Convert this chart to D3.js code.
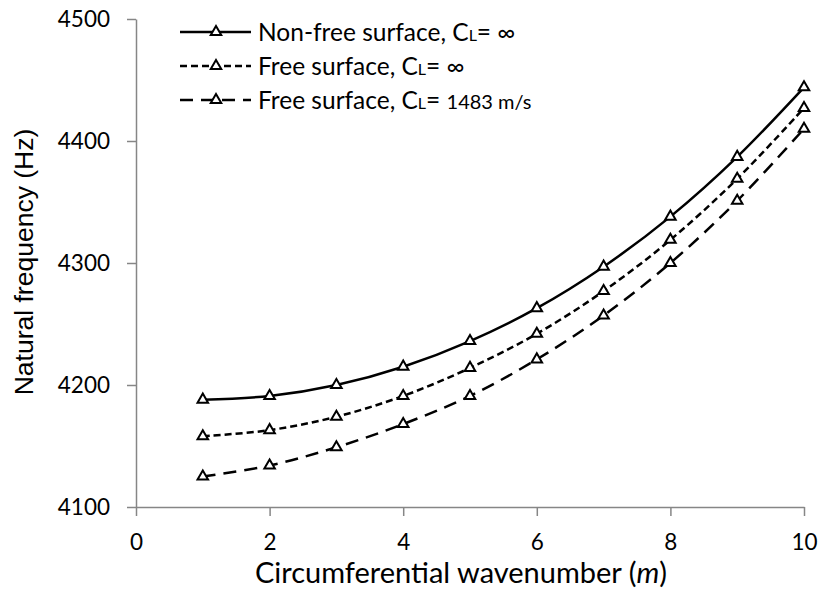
<!DOCTYPE html>
<html>
<head>
  <script src="https://d3js.org/d3.v7.min.js"></script>
  <style>
    body { margin: 0; background: #fff; font-family: Lato, "Open Sans", sans-serif; }
    .axis path, .axis line { stroke: #868686; stroke-width: 1.5; }
    .axis text { font-size: 22.5px; fill: #000; font-family: Lato, sans-serif; }
    .xtitle { font-size: 29px; fill: #000; font-family: Lato, sans-serif; }
    .ytitle { font-size: 26.5px; fill: #000; font-family: "Liberation Sans", Arial, sans-serif; }
    .legend text { font-size: 24.5px; fill: #000; }
  </style>
</head>
<body>
  <div id="chart"></div>
  <script>
    // data
    const waveNumbers = [1, 2, 3, 4, 5, 6, 7, 8, 9, 10];
    const nonFreeInf = [4188, 4191, 4200, 4215, 4236, 4263, 4297, 4338, 4387, 4444];
    const freeInf    = [4158, 4163, 4174, 4191, 4214, 4242, 4277, 4319, 4369, 4427];
    const free1483   = [4125, 4134, 4149, 4168, 4191, 4221, 4257, 4300, 4351, 4410];
    const xTicks = [0, 2, 4, 6, 8, 10];
    const yTicks = [4100, 4200, 4300, 4400, 4500];

    const series = [
      {values: nonFreeInf, dash: null, label: "Non-free surface, C", tail: "= ∞", small: null},
      {values: freeInf, dash: "7,4", label: "Free surface, C", tail: "= ∞", small: null},
      {values: free1483, dash: "13,8", label: "Free surface, C", tail: "= ", small: "1483 m/s"}
    ];

    const W = 818, H = 598;
    const margin = {top: 19, right: 14, bottom: 91, left: 136};
    const width = W - margin.left - margin.right;
    const height = H - margin.top - margin.bottom;

    const svg = d3.select("#chart").append("svg")
      .attr("width", W).attr("height", H);
    const g = svg.append("g").attr("transform", `translate(${margin.left},${margin.top})`);

    const x = d3.scaleLinear().domain([0, 10]).range([0, width]);
    const y = d3.scaleLinear().domain([4100, 4500]).range([height, 0]);

    g.append("g").attr("class", "axis")
      .attr("transform", `translate(0,${height})`)
      .call(d3.axisBottom(x).tickValues(xTicks).tickSize(9).tickSizeOuter(0))
      .selectAll("text").attr("y", 43).attr("dy", 0);

    g.append("g").attr("class", "axis")
      .call(d3.axisLeft(y).tickValues(yTicks).tickFormat(d3.format("d"))
        .tickSize(9).tickPadding(17).tickSizeOuter(0));

    // axis titles
    const xt = svg.append("text").attr("class", "xtitle")
      .attr("x", margin.left + width / 2 - 9).attr("y", 583)
      .attr("text-anchor", "middle");
    xt.append("tspan").text("Circumferential wavenumber (");
    xt.append("tspan").attr("font-style", "italic").text("m");
    xt.append("tspan").text(")");

    svg.append("text").attr("class", "ytitle")
      .attr("transform", "translate(33,262) rotate(-90)")
      .attr("text-anchor", "middle")
      .text("Natural frequency (Hz)");

    const line = d3.line()
      .x((d, i) => x(waveNumbers[i]))
      .y(d => y(d))
      .curve(d3.curveCatmullRom.alpha(0));

    const tri = d3.symbol().type(d3.symbolTriangle).size(48);

    series.forEach(s => {
      g.append("path")
        .attr("d", line(s.values))
        .attr("fill", "none")
        .attr("stroke", "#000")
        .attr("stroke-width", 2.5)
        .attr("stroke-dasharray", s.dash);
      g.selectAll(null).data(s.values).join("path")
        .attr("d", tri)
        .attr("transform", (d, i) => `translate(${x(waveNumbers[i])},${y(d)})`)
        .attr("fill", "#fff")
        .attr("stroke", "#000")
        .attr("stroke-width", 2);
    });

    // legend
    const legend = svg.append("g").attr("class", "legend");
    const rowY = [32, 66, 100];
    series.forEach((s, i) => {
      const r = legend.append("g").attr("transform", `translate(0,${rowY[i]})`);
      r.append("line").attr("x1", 180).attr("x2", 251)
        .attr("stroke", "#000").attr("stroke-width", 2.5)
        .attr("stroke-dasharray", s.dash);
      r.append("path").attr("d", tri)
        .attr("transform", "translate(216,0)")
        .attr("fill", "#fff").attr("stroke", "#000").attr("stroke-width", 2);
      const t = r.append("text").attr("x", 258).attr("dy", "0.35em");
      t.append("tspan").text(s.label);
      t.append("tspan").attr("font-size", "16px").text("L");
      t.append("tspan").text(s.tail);
      if (s.small) t.append("tspan").attr("font-size", "20px").text(s.small);
    });
  </script>
</body>
</html>
